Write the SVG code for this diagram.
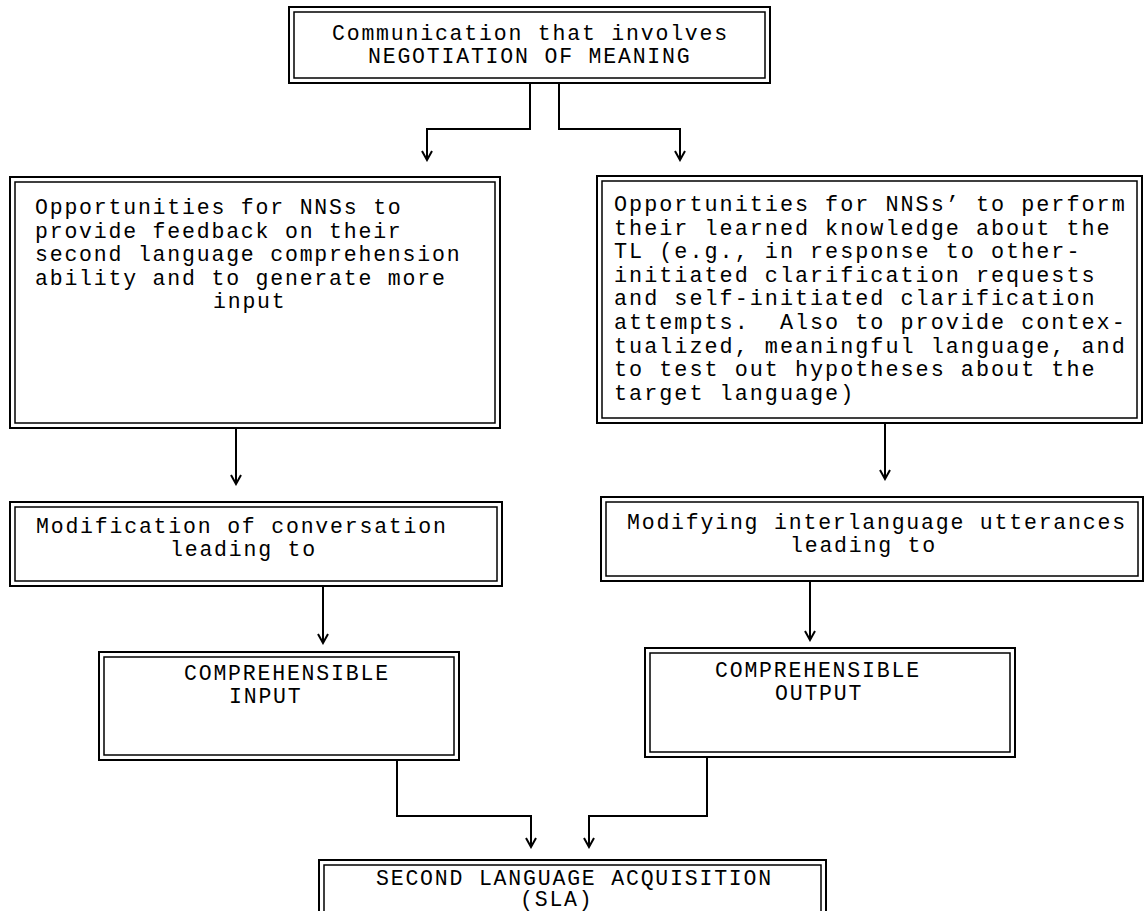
<svg xmlns="http://www.w3.org/2000/svg" width="1145" height="911" viewBox="0 0 1145 911">
<style>
.o{fill:#fff;stroke:#000;stroke-width:2}
.i{fill:none;stroke:#000;stroke-width:1.5}
.t{font-family:"Liberation Mono","Courier New",monospace;font-size:21.5px;letter-spacing:1.8px;fill:#000;white-space:pre}
.w{letter-spacing:2px;font-size:21.8px}
.c{fill:none;stroke:#000;stroke-width:2}
</style>
<defs>
<marker id="ah" markerUnits="userSpaceOnUse" markerWidth="12" markerHeight="14" refX="10" refY="6" orient="auto" viewBox="0 0 12 12">
<path d="M1,1 L10,6 L1,11" fill="none" stroke="#000" stroke-width="2"/>
</marker>
</defs>
<rect width="1145" height="911" fill="#fff"/>
<g id="connectors">
<path class="c" d="M530,83 V129 H427 V160" marker-end="url(#ah)"/>
<path class="c" d="M559,83 V129 H680 V160" marker-end="url(#ah)"/>
<path class="c" d="M236,428 V484" marker-end="url(#ah)"/>
<path class="c" d="M323,586 V643" marker-end="url(#ah)"/>
<path class="c" d="M885,423 V479" marker-end="url(#ah)"/>
<path class="c" d="M810,581 V640" marker-end="url(#ah)"/>
<path class="c" d="M397,760 V816 H531 V847" marker-end="url(#ah)"/>
<path class="c" d="M707,757 V816 H589 V847" marker-end="url(#ah)"/>
</g>
<g id="n_top">
<rect class="o" x="289" y="7" width="481" height="76"/>
<rect class="i" x="294" y="12" width="471" height="66"/>
<text class="t" x="332" y="40">Communication that involves</text>
<text class="t" x="368" y="63">NEGOTIATION OF MEANING</text>
</g>
<g id="n_feedback">
<rect class="o" x="10" y="177" width="490" height="251"/>
<rect class="i" x="15" y="182" width="480" height="241"/>
<text class="t" x="35" y="214">Opportunities for NNSs to</text>
<text class="t" x="35" y="237.5">provide feedback on their</text>
<text class="t" x="35" y="261">second language comprehension</text>
<text class="t" x="35" y="284.5">ability and to generate more</text>
<text class="t" x="213" y="308">input</text>
</g>
<g id="n_perform">
<rect class="o" x="597" y="176" width="545" height="247"/>
<rect class="i" x="602" y="181" width="535" height="237"/>
<text class="t w" x="614" y="211">Opportunities for NNSs’ to perform</text>
<text class="t w" x="614" y="234.6">their learned knowledge about the</text>
<text class="t w" x="614" y="258.2">TL (e.g., in response to other-</text>
<text class="t w" x="614" y="281.8">initiated clarification requests</text>
<text class="t w" x="614" y="305.4">and self-initiated clarification</text>
<text class="t w" x="614" y="329" xml:space="preserve">attempts.  Also to provide contex-</text>
<text class="t w" x="614" y="352.6">tualized, meaningful language, and</text>
<text class="t w" x="614" y="376.2">to test out hypotheses about the</text>
<text class="t w" x="614" y="399.8">target language)</text>
</g>
<g id="n_modconv">
<rect class="o" x="10" y="502" width="492" height="84"/>
<rect class="i" x="15" y="507" width="482" height="74"/>
<text class="t" x="36" y="533">Modification of conversation</text>
<text class="t" x="170" y="556">leading to</text>
</g>
<g id="n_modil">
<rect class="o" x="601" y="497" width="542" height="84"/>
<rect class="i" x="606" y="502" width="532" height="74"/>
<text class="t" x="627" y="529">Modifying interlanguage utterances</text>
<text class="t" x="790" y="552">leading to</text>
</g>
<g id="n_ci">
<rect class="o" x="99" y="652" width="360" height="108"/>
<rect class="i" x="104" y="657" width="350" height="98"/>
<text class="t" x="184" y="680">COMPREHENSIBLE</text>
<text class="t" x="229" y="703">INPUT</text>
</g>
<g id="n_co">
<rect class="o" x="645" y="648" width="370" height="109"/>
<rect class="i" x="650" y="653" width="360" height="99"/>
<text class="t" x="715" y="677">COMPREHENSIBLE</text>
<text class="t" x="775" y="700">OUTPUT</text>
</g>
<g id="n_sla">
<rect class="o" x="319" y="860" width="507" height="70"/>
<rect class="i" x="324" y="865" width="497" height="70"/>
<text class="t" x="376" y="885">SECOND LANGUAGE ACQUISITION</text>
<text class="t" x="520" y="906">(SLA)</text>
</g>
</svg>
